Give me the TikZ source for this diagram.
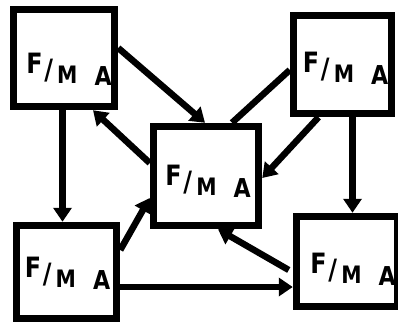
\documentclass[tikz,border=0pt]{standalone}
\usepackage{fontspec}
\setmainfont{DejaVu Sans}
\usepackage{graphicx}
\usetikzlibrary{arrows.meta,calc}
\newcommand{\fmatext}{\scalebox{0.85}[1]{\bfseries\fontsize{28}{28}\selectfont\raisebox{12pt}{F}\hspace{2pt}\raisebox{6pt}{/}\hspace{5pt}\raisebox{2pt}{\fontsize{24}{24}\selectfont M}\hspace{20pt}{\fontsize{26}{26}\selectfont A}}}
\tikzset{
  box/.style={draw=black, fill=white, line width=7.5pt, inner sep=0pt},
  lbl/.style={inner sep=0pt, text=black},
  arr/.style={line width=6.5pt, -{Triangle[length=14pt,width=18pt]}},
  plainline/.style={line width=6.5pt}
}
\begin{document}
\begin{tikzpicture}[x=1pt,y=-1pt]
\useasboundingbox[fill=white] (0,0) rectangle (398,324);
% boxes
\node[box, minimum width=101pt, minimum height=97pt] (TL) at (64,58) {};
\node[box, minimum width=98pt, minimum height=98pt] (TR) at (342.5,64.5) {};
\node[box, minimum width=105pt, minimum height=99pt] (C) at (206,176) {};
\node[box, minimum width=100pt, minimum height=93pt] (BL) at (66.5,272) {};
\node[box, minimum width=101pt, minimum height=90pt] (BR) at (347,261.5) {};
% labels
\node[lbl] (tTL) at ($(TL)+(5,11)$) {\fmatext};
\node[lbl] (tTR) at ($(TR)+(3,4)$) {\fmatext};
\node[lbl] (tC) at ($(C)+(2,5)$) {\fmatext};
\node[lbl] (tBL) at ($(BL)+(1,1.5)$) {\fmatext};
\node[lbl] (tBR) at ($(BR)+(6,7.5)$) {\fmatext};
% connectors
\draw[arr] ([yshift=10pt]TL.east) -- ([xshift=-1pt]C.north);
\draw[arr] ([yshift=13pt]C.west) -- ([xshift=29pt]TL.south);
\draw[arr] ([xshift=-1.5pt]TL.south) coordinate (a3) -- (a3 |- BL.north);
\draw[plainline] ([yshift=-5.5pt]TR.west) -- ([xshift=26pt]C.north);
\draw[arr] ([xshift=-24pt]TR.south) -- ([yshift=-2pt]C.east);
\draw[arr] ([xshift=10pt]TR.south) coordinate (a6) -- (a6 |- BR.north);
\draw[arr] ([yshift=22pt]BL.east) -- ([yshift=-22pt]C.west);
\draw[arr] ([yshift=-15pt]BL.east) coordinate (a8) -- (a8 -| BR.west);
\draw[arr] ([xshift=-4pt,yshift=-8.5pt]BR.west) -- ([xshift=12pt]C.south);
\end{tikzpicture}
\end{document}
